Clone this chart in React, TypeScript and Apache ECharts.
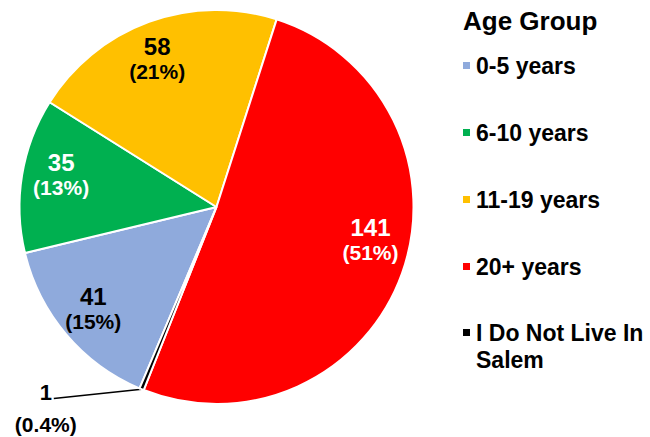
import React, { useEffect, useRef } from 'react';
import * as echarts from 'echarts';

const categories = ['0-5 years', '6-10 years', '11-19 years', '20+ years', 'I Do Not Live In Salem'];
const counts = [41, 35, 58, 141, 1];
const sliceColors = ['#8FAADC', '#00B050', '#FFC000', '#FF0000', '#000000'];
const labelColors = ['#000000', '#FFFFFF', '#000000', '#FFFFFF', '#000000'];
const legendTitle = 'Age Group';

export default function App() {
  const ref = useRef<HTMLDivElement>(null);
  useEffect(() => {
    document.body.style.margin = '0';
    const chart = echarts.init(ref.current!, null, { renderer: 'svg' });
    const total = counts.reduce((a, b) => a + b, 0);
    const pct = (v: number) => {
      const p = (v / total) * 100;
      return p >= 1 ? Math.round(p).toString() : p.toFixed(1);
    };
    const font = '"Liberation Sans", Arial, sans-serif';
    const center = [216.5, 207];
    const startAngle = -113;
    const legendText = { fontFamily: font, fontWeight: 'bold', fontSize: 23, lineHeight: 27, color: '#000' };
    const rich = {
      v: { fontFamily: font, fontWeight: 'bold', fontSize: 24, lineHeight: 25 },
      p: { fontFamily: font, fontWeight: 'bold', fontSize: 21, lineHeight: 25 },
    };
    const richOut = {
      v: { fontFamily: font, fontWeight: 'bold', fontSize: 22, lineHeight: 32 },
      p: { fontFamily: font, fontWeight: 'bold', fontSize: 21, lineHeight: 32 },
    };
    // small placement nudges for the inside labels (layout only)
    const nudges: number[][] = [[0, -2], [4, -6], [-4, 4], [2, -22]];
    chart.setOption({
      animation: false,
      title: {
        text: legendTitle,
        left: 458,
        top: 1,
        textStyle: { fontFamily: font, fontWeight: 'bold', fontSize: 26, lineHeight: 30, color: '#000' },
      },
      legend: [
        {
          orient: 'vertical',
          left: 456,
          top: 47,
          itemWidth: 9,
          itemHeight: 9,
          itemGap: 40,
          icon: 'rect',
          selectedMode: false,
          textStyle: legendText,
          data: categories.slice(0, 4).map((n, i) => ({ name: n, itemStyle: { color: sliceColors[i] } })),
        },
        {
          orient: 'vertical',
          left: 456,
          top: 287,
          itemWidth: 9,
          itemHeight: 9,
          icon: 'rect',
          selectedMode: false,
          textStyle: legendText,
          formatter: (name: string) => '\n' + name.replace(' Salem', '\nSalem'),
          data: [{ name: categories[4], itemStyle: { color: sliceColors[4] } }],
        },
      ],
      series: [
        {
          type: 'pie',
          center,
          radius: [0, 197],
          startAngle,
          clockwise: true,
          avoidLabelOverlap: false,
          silent: true,
          label: { show: false },
          labelLine: { show: false },
          itemStyle: { borderColor: '#FFFFFF', borderWidth: 2 },
          data: categories.map((n, i) => ({ name: n, value: counts[i], itemStyle: { color: sliceColors[i] } })),
        },
        {
          type: 'pie',
          center,
          radius: [120, 197],
          startAngle,
          clockwise: true,
          avoidLabelOverlap: false,
          silent: true,
          emphasis: { disabled: true },
          itemStyle: { color: 'rgba(0,0,0,0)', borderWidth: 0 },
          label: {
            show: true,
            position: 'inside',
            textBorderWidth: 0,
            formatter: (p: any) => `{v|${p.value}}\n{p|(${pct(p.value)}%)}`,
            rich,
          },
          labelLine: { show: false },
          data: categories.map((n, i) => {
            if (i === 4) {
              return {
                name: n,
                value: counts[i],
                label: { position: 'outside', color: labelColors[i], rich: richOut },
                labelLine: { show: true, length: 10, length2: 84, smooth: false, lineStyle: { color: '#000', width: 1.5 } },
              };
            }
            return { name: n, value: counts[i], label: { color: labelColors[i] } };
          }),
          labelLayout: (params: any) => {
            if (params.dataIndex < 4) {
              const d = nudges[params.dataIndex];
              return { dx: d[0], dy: d[1] };
            }
            if (!params.labelLinePoints) return {};
            const pts = params.labelLinePoints;
            const end = pts[pts.length - 1];
            return {
              x: end[0] - 8,
              y: end[1] + 10,
              align: 'center',
              verticalAlign: 'middle',
              labelLinePoints: [pts[0], end],
            };
          },
        },
      ],
    });
    return () => chart.dispose();
  }, []);
  return <div ref={ref} style={{ width: 650, height: 437 }} />;
}
